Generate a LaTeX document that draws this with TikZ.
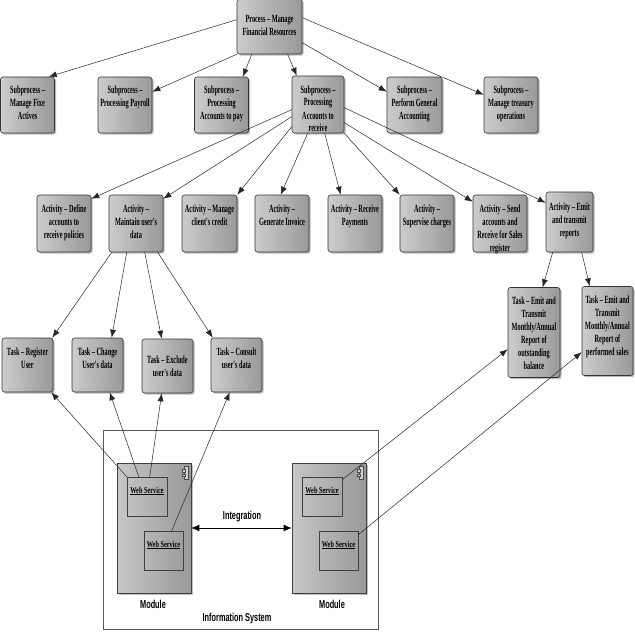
\documentclass[tikz,border=0pt]{standalone}
\usepackage{fontspec}
\newfontfamily\bxfont{Liberation Serif}[FakeStretch=0.57]
\newfontfamily\wsfont{Liberation Serif}[FakeStretch=0.7]
\newfontfamily\lbfont{Liberation Sans}[FakeStretch=0.64]
\usetikzlibrary{arrows.meta,calc,shadows}
\newcommand{\tbx}[4][17pt]{\parbox[c][#3pt][t]{#2pt}{\centering\rule{0pt}{#1}#4\par}}
\begin{document}
\begin{tikzpicture}[x=1pt,y=-1pt,
  box/.style={draw=black!80, line width=0.6pt, rounded corners=2.5pt,
    left color=black!20, right color=black!40, inner sep=0pt,
    drop shadow={shadow xshift=1.6pt, shadow yshift=-1.6pt, opacity=0.55},
    font=\bxfont\bfseries\fontsize{11}{13}\selectfont},
  modbox/.style={draw=black!75, line width=0.6pt, left color=black!22, right color=black!40,
    inner sep=0pt, drop shadow={shadow xshift=1.6pt, shadow yshift=-1.6pt, opacity=0.5}},
  wsbox/.style={draw=black!75, line width=0.6pt, inner sep=0pt,
    font=\wsfont\bfseries\fontsize{9}{10}\selectfont},
  lbl/.style={font=\lbfont\bfseries\fontsize{11.5}{13}\selectfont, inner sep=0pt},
  arr/.style={draw=black!85, line width=0.5pt, -{Latex[length=8pt,width=6pt]}},
  arrboth/.style={draw=black, line width=0.8pt, {Latex[length=8pt,width=7pt]}-{Latex[length=8pt,width=7pt]}}]
\useasboundingbox (0,0) rectangle (635,634);

% top process
\node[box] (proc) at (269.5,26.5) {\tbx[24pt]{65}{55}{Process – Manage\\Financial Resources}};

% subprocesses
\node[box] (s1) at (27.5,105) {\tbx{54}{56}{Subprocess –\\Manage Fixe\\Actives}};
\node[box] (s2) at (125,105) {\tbx{54}{56}{Subprocess –\\Processing Payroll}};
\node[box] (s3) at (221.5,105) {\tbx{54}{56}{Subprocess –\\Processing\\Accounts to pay}};
\node[box] (s4) at (318,104.5) {\tbx{52}{57}{Subprocess –\\Processing\\Accounts to\\receive}};
\node[box] (s5) at (414.5,105) {\tbx{55}{56}{Subprocess –\\Perform General\\Accounting}};
\node[box] (s6) at (511,105) {\tbx{54}{56}{Subprocess –\\Manage treasury\\operations}};

% activities
\node[box] (a1) at (64,223.5) {\tbx{54}{57}{Activity – Define\\accounts to\\receive policies}};
\node[box] (a2) at (136,223.5) {\tbx{54}{57}{Activity –\\Maintain user's\\data}};
\node[box] (a3) at (209.5,223.5) {\tbx{55}{57}{Activity – Manage\\client's credit}};
\node[box] (a4) at (282,223.5) {\tbx{54}{57}{Activity –\\Generate Invoice}};
\node[box] (a5) at (355,223.5) {\tbx{54}{57}{Activity – Receive\\Payments}};
\node[box] (a6) at (427,223.5) {\tbx{54}{57}{Activity –\\Supervise charges}};
\node[box] (a7) at (500,223.5) {\tbx{54}{57}{Activity – Send\\accounts and\\Receive for Sales\\register}};
\node[box] (a8) at (569.5,222) {\tbx[18pt]{47}{60}{Activity – Emit\\and transmit\\reports}};

% tasks
\node[box] (t1) at (27.5,365) {\tbx{51}{54}{Task – Register\\User}};
\node[box] (t2) at (97.5,365) {\tbx{51}{54}{Task – Change\\User's data}};
\node[box] (t3) at (167.5,366) {\tbx[24pt]{51}{54}{Task – Exclude\\user's data}};
\node[box] (t4) at (236.5,365) {\tbx{51}{54}{Task – Consult\\user's data}};
\node[box] (t5) at (534,332.5) {\tbx{52}{90}{Task – Emit and\\Transmit\\Monthly/Annual\\Report of\\outstanding\\balance}};
\node[box] (t6) at (607.5,331) {\tbx{51}{89}{Task – Emit and\\Transmit\\Monthly/Annual\\Report of\\performed sales}};

% information system
\node[draw=black!65, line width=0.6pt, fill=white, minimum width=275pt, minimum height=199pt, inner sep=0pt,
  drop shadow={shadow xshift=1pt, shadow yshift=-1pt, opacity=0.3}] (sys) at (240.5,529.5) {};
\node[modbox, minimum width=74pt, minimum height=130pt] (m1) at (154,528) {};
\node[modbox, minimum width=74pt, minimum height=130pt] (m2) at (329,528) {};
\foreach \m in {m1,m2}{
  \draw[black!70, line width=0.5pt, fill=black!18] ($(\m.north east)+(-7.5,4)$) rectangle ($(\m.north east)+(-3,17)$);
  \draw[black!70, line width=0.5pt, fill=black!18] ($(\m.north east)+(-9.5,7)$) rectangle ($(\m.north east)+(-6,9.5)$);
  \draw[black!70, line width=0.5pt, fill=black!18] ($(\m.north east)+(-9.5,11.5)$) rectangle ($(\m.north east)+(-6,14)$);
}
\node[wsbox, minimum width=40pt, minimum height=39pt] (ws1) at (147,496.5) {\tbx[16pt]{40}{39}{\underline{Web Service}}};
\node[wsbox, minimum width=39pt, minimum height=39pt] (ws2) at (163.5,550.5) {\tbx[16pt]{39}{39}{\underline{Web Service}}};
\node[wsbox, minimum width=40pt, minimum height=39pt] (ws3) at (322,496.5) {\tbx[16pt]{40}{39}{\underline{Web Service}}};
\node[wsbox, minimum width=39pt, minimum height=39pt] (ws4) at (338.5,550.5) {\tbx[16pt]{39}{39}{\underline{Web Service}}};

\node[lbl] (ml1) at (153,604) {Module};
\node[lbl] (ml2) at (332,604) {Module};
\node[lbl] (isl) at (237,619) {Information System};
\node[lbl] (intl) at (242,517) {Integration};
\draw[arrboth] (m1.east) -- (m2.west);

% process -> subprocesses
\draw[arr] ($(proc.north west)+(0,21)$) -- ($(s1.north east)+(-6,0)$);
\draw[arr] (proc.south west) -- ($(s2.north east)+(0,15)$);
\draw[arr] ($(proc.south west)+(15,0)$) -- ($(s3.north east)+(-6,0)$);
\draw[arr] ($(proc.south west)+(51,0)$) -- ($(s4.north west)+(5,0)$);
\draw[arr] ($(proc.north east)+(0,44)$) -- ($(s5.north west)+(0,15)$);
\draw[arr] ($(proc.north east)+(0,19)$) -- ($(s6.north west)+(0,18)$);

% subprocess -> activities
\draw[arr] ($(s4.north west)+(0,34)$) -- ($(a1.north east)+(0,4)$);
\draw[arr] ($(s4.north west)+(0,41)$) -- ($(a2.north east)+(0,4)$);
\draw[arr] ($(s4.north west)+(0,51)$) -- (a3.north east);
\draw[arr] ($(s4.south west)+(16,0)$) -- ($(a4.north west)+(26,0)$);
\draw[arr] ($(s4.south west)+(33,0)$) -- ($(a5.north west)+(13,0)$);
\draw[arr] (s4.south east) -- (a6.north west);
\draw[arr] ($(s4.north east)+(0,47)$) -- ($(a7.north west)+(0,7)$);
\draw[arr] ($(s4.north east)+(0,32)$) -- ($(a8.north west)+(0,11)$);

% activity -> tasks
\draw[arr] ($(a2.south west)+(3,0)$) -- ($(t1.north east)+(-1,0)$);
\draw[arr] ($(a2.south west)+(18,0)$) -- ($(t2.north west)+(40,0)$);
\draw[arr] ($(a2.south west)+(36,0)$) -- ($(t3.north west)+(20,0)$);
\draw[arr] ($(a2.south west)+(49,0)$) -- ($(t4.north west)+(2,0)$);
\draw[arr] ($(a8.south west)+(7,0)$) -- ($(t5.north west)+(35,0)$);
\draw[arr] ($(a8.south west)+(36,0)$) -- ($(t6.north west)+(8,0)$);

% web services -> tasks
\draw[arr] (ws1.north west) -- ($(t1.south east)+(-2,0)$);
\draw[arr] ($(ws1.north west)+(12,0)$) -- ($(t2.south west)+(38,0)$);
\draw[arr] ($(ws1.north west)+(23,0)$) -- ($(t3.south west)+(20,0)$);
\draw[arr] ($(ws2.north west)+(28,0)$) -- ($(t4.south west)+(19,0)$);
\draw[arr] ($(ws3.north east)+(0,3)$) -- ($(t5.north west)+(0,62)$);
\draw[arr] ($(ws4.north east)+(0,4)$) -- ($(t6.north west)+(0,66)$);
\end{tikzpicture}
\end{document}
